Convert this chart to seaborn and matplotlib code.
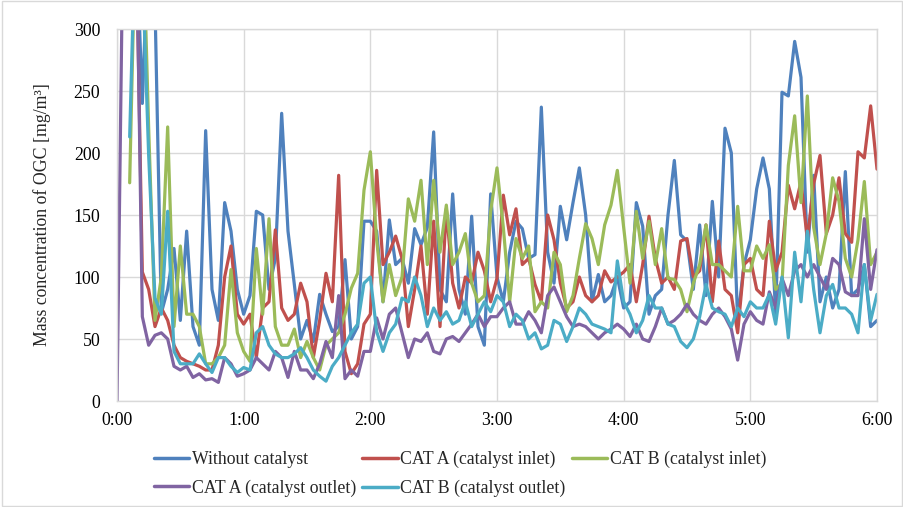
import numpy as np
import pandas as pd
import matplotlib
matplotlib.use("Agg")
import matplotlib.pyplot as plt
from matplotlib.lines import Line2D
from matplotlib.patches import Rectangle
import seaborn as sns

nan = np.nan

# time axis (minutes since start, 3-minute readings)
minutes = list(range(0, 361, 3))
time_ticks = [0, 60, 120, 180, 240, 300, 360]
time_labels = ["0:00", "1:00", "2:00", "3:00", "4:00", "5:00", "6:00"]
y_ticks = [0, 50, 100, 150, 200, 250, 300]

without_catalyst = [
    nan, nan, nan, 380, 240, 380, 320, 71, 90, 123, 65, 137, 60, 45, 218, 90, 65, 160, 137, 90,
    70, 85, 153, 150, 90, 115, 232, 137, 94, 50, 65, 48, 86, 70, 56, 60, 114, 50, 60, 145,
    145, 137, 80, 146, 110, 115, 95, 139, 126, 140, 217, 90, 80, 167, 90, 70, 149, 60, 45, 167,
    100, 80, 120, 145, 139, 115, 118, 237, 120, 95, 157, 130, 160, 188, 150, 80, 102, 80, 85, 100,
    75, 80, 160, 141, 70, 85, 90, 150, 194, 134, 129, 90, 142, 85, 161, 100, 220, 200, 65, 110,
    130, 171, 196, 171, 70, 249, 246, 290, 261, 120, 182, 80, 100, 75, 90, 185, 85, 90, 110, 60, 65,
]
cat_a_inlet = [
    nan, nan, nan, 380, 104, 90, 60, 75, 65, 45, 35, 32, 30, 28, 25, 25, 45, 100, 125, 70,
    62, 70, 35, 75, 80, 138, 75, 65, 70, 95, 80, 35, 65, 103, 80, 182, 40, 22, 30, 62,
    70, 186, 110, 120, 133, 115, 60, 90, 125, 70, 145, 60, 155, 95, 75, 100, 95, 120, 105, 80,
    99, 166, 134, 155, 110, 115, 94, 80, 150, 130, 95, 75, 80, 100, 85, 80, 85, 105, 96, 100,
    104, 110, 80, 110, 149, 115, 95, 100, 90, 129, 131, 100, 105, 142, 80, 129, 90, 85, 55, 110,
    115, 90, 85, 145, 105, 120, 174, 155, 177, 130, 175, 198, 135, 150, 180, 135, 128, 201, 196, 238, 187,
]
cat_b_inlet = [
    nan, nan, 176, 400, 400, 220, 65, 100, 221, 60, 125, 70, 70, 60, 30, 30, 35, 45, 106, 55,
    40, 32, 123, 70, 147, 60, 45, 45, 58, 35, 48, 35, 25, 45, 50, 55, 70, 91, 103, 170,
    201, 130, 80, 110, 85, 100, 163, 145, 178, 110, 178, 120, 158, 110, 120, 135, 95, 80, 85, 153,
    188, 140, 80, 131, 115, 125, 72, 80, 75, 120, 110, 72, 85, 115, 143, 131, 110, 142, 158, 186,
    140, 95, 153, 115, 145, 110, 139, 99, 98, 90, 72, 95, 110, 142, 110, 110, 105, 100, 157, 105,
    105, 125, 115, 126, 90, 95, 190, 230, 160, 246, 140, 110, 135, 180, 161, 115, 100, 130, 177, 110, 120,
]
cat_a_outlet = [
    0, 400, 400, 400, 68, 45, 53, 55, 50, 28, 25, 28, 19, 22, 17, 18, 15, 35, 30, 20,
    22, 25, 35, 30, 25, 40, 35, 19, 40, 25, 25, 18, 30, 48, 35, 85, 18, 25, 20, 40,
    40, 67, 50, 70, 75, 55, 35, 50, 48, 55, 40, 38, 50, 52, 48, 55, 62, 70, 60, 68,
    68, 75, 80, 62, 62, 72, 65, 55, 85, 92, 80, 68, 60, 62, 60, 55, 50, 55, 58, 62,
    58, 52, 62, 50, 48, 60, 75, 62, 65, 70, 78, 70, 65, 62, 70, 75, 68, 58, 33, 62,
    72, 65, 62, 88, 75, 99, 85, 105, 110, 100, 110, 100, 90, 115, 110, 88, 85, 85, 147, 90, 122,
]
cat_b_outlet = [
    nan, nan, 213, 400, 350, 198, 83, 70, 153, 40, 30, 30, 30, 38, 30, 23, 35, 35, 28, 23,
    27, 25, 55, 60, 45, 38, 35, 35, 38, 43, 35, 25, 20, 16, 28, 35, 45, 55, 62, 95,
    100, 56, 40, 55, 62, 83, 80, 100, 85, 60, 75, 65, 72, 62, 65, 80, 60, 70, 80, 72,
    85, 80, 60, 70, 65, 50, 55, 42, 45, 65, 62, 48, 60, 75, 70, 62, 60, 58, 55, 113,
    80, 70, 55, 65, 85, 75, 75, 62, 60, 48, 43, 50, 68, 94, 75, 72, 70, 60, 75, 68,
    80, 75, 75, 86, 62, 100, 51, 120, 80, 137, 90, 55, 85, 94, 75, 75, 70, 55, 110, 65, 86,
]

names = ["Without catalyst", "CAT A (catalyst inlet)", "CAT B (catalyst inlet)",
         "CAT A (catalyst outlet)", "CAT B (catalyst outlet)"]
colors = ["#4F81BD", "#C0504D", "#9BBB59", "#8064A2", "#4BACC6"]
series = [without_catalyst, cat_a_inlet, cat_b_inlet, cat_a_outlet, cat_b_outlet]

df = pd.concat(
    [pd.DataFrame({"minute": minutes, "value": vals, "series": nm}) for nm, vals in zip(names, series)],
    ignore_index=True,
).dropna()

sns.set_style("white")
plt.rcParams["font.family"] = ["Liberation Serif", "DejaVu Serif"]

FS = 12.8
fig = plt.figure(figsize=(9.04, 5.07), dpi=100)
ax = fig.add_axes([117 / 904, 1 - 401 / 507, 760 / 904, 372 / 507])

sns.lineplot(data=df, x="minute", y="value", hue="series", hue_order=names,
             palette=colors, linewidth=2.3, estimator=None, legend=False, ax=ax)

ax.set_xlim(0, 360)
ax.set_ylim(0, 300)
ax.set_xticks(time_ticks)
ax.set_xticklabels(time_labels)
ax.set_yticks(y_ticks)
ax.grid(True, color="#D9D9D9", linewidth=1.0)
ax.set_axisbelow(True)
for s in ax.spines.values():
    s.set_color("#D9D9D9")
    s.set_linewidth(1.0)
ax.tick_params(axis="both", length=0, labelsize=FS, colors="black")
ax.tick_params(axis="y", pad=12)
ax.tick_params(axis="x", pad=8)
ax.set_xlabel("")
ax.set_ylabel("Mass concentration of OGC [mg/m³]", fontsize=FS)
ax.yaxis.set_label_coords(-0.087, 0.5)

order = [0, 3, 1, 4, 2]
handles = [Line2D([], [], color=colors[i], lw=2.5) for i in order]
fig.legend(handles, [names[i] for i in order], ncol=3, loc="center",
           bbox_to_anchor=(460 / 904, 1 - 474 / 507), frameon=False, fontsize=FS,
           handlelength=2.0, handletextpad=0.15, columnspacing=0.35, labelspacing=0.62)

fig.patches.append(Rectangle((0.002, 0.002), 0.996, 0.996, transform=fig.transFigure,
                             fill=False, edgecolor="#D9D9D9", linewidth=1.0))

fig.savefig("out.png", dpi=100)
